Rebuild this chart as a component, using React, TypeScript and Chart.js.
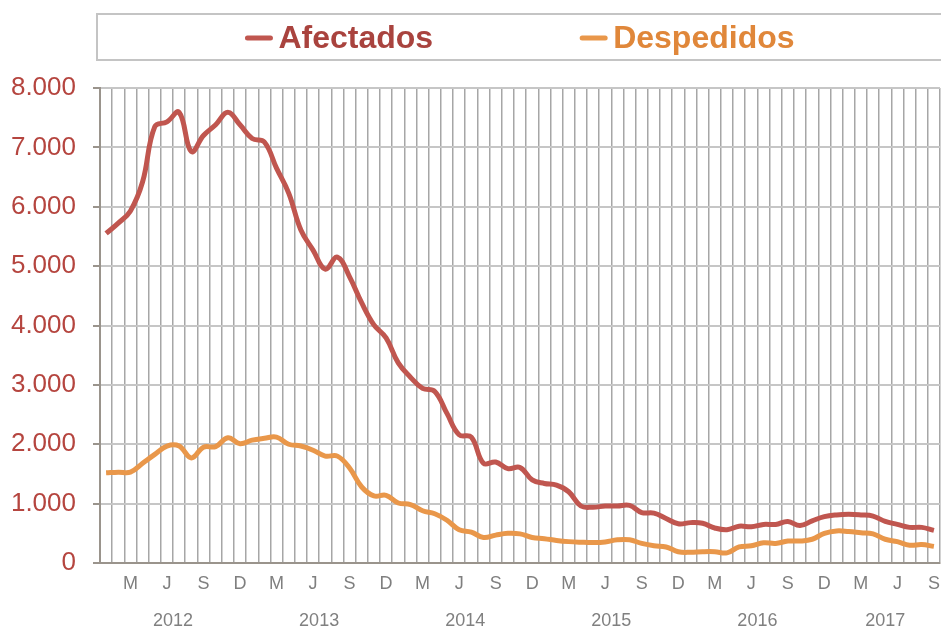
import React, { useEffect, useRef } from "react";
import { Chart, registerables } from "chart.js";

Chart.register(...registerables);

const years = ["2012", "2013", "2014", "2015", "2016", "2017"];
const monthLetters = ["E", "F", "M", "A", "M", "J", "J", "A", "S", "O", "N", "D"];
const shownMonths = [2, 5, 8, 11];
const monthsInLastYear = 9;

const afectados = [
  5550, 5725, 5930, 6420, 7350, 7430, 7590, 6930, 7200, 7380,
  7590, 7380, 7150, 7090, 6650, 6230, 5610, 5270, 4950, 5150,
  4820, 4380, 4010, 3790, 3370, 3130, 2940, 2890, 2520, 2160,
  2120, 1680, 1700, 1590, 1610, 1400, 1340, 1310, 1200, 960,
  940, 960, 960, 970, 850, 840, 750, 660, 680, 670,
  590, 560, 620, 610, 650, 650, 700, 630, 710, 780,
  810, 820, 810, 790, 700, 650, 600, 600, 550,
];

const despedidos = [
  1520, 1530, 1530, 1680, 1830, 1970, 1970, 1770, 1950, 1960,
  2110, 2010, 2070, 2100, 2120, 2000, 1970, 1900, 1800, 1800,
  1600, 1280, 1130, 1140, 1010, 985, 880, 830, 720, 560,
  520, 430, 470, 500, 490, 430, 410, 380, 360, 350,
  345, 355, 390, 390, 330, 290, 270, 190, 180, 190,
  190, 170, 270, 290, 340, 330, 370, 370, 400, 500,
  540, 530, 510, 490, 400, 360, 300, 310, 280,
];

const categories: string[] = [];
const monthIdx: number[] = [];
const yearOf: string[] = [];
years.forEach((y, yi) => {
  const n = yi === years.length - 1 ? monthsInLastYear : 12;
  for (let m = 0; m < n; m++) {
    categories.push(monthLetters[m] + " " + y);
    monthIdx.push(m);
    yearOf.push(y);
  }
});

const seriesNames = ["Afectados", "Despedidos"];
const lineColors = ["#C0564F", "#E9974A"];
const textColors = ["#A9433E", "#E0873A"];

const FONT = "'Liberation Sans', Arial, sans-serif";

const overlayPlugin = {
  id: "overlay",
  afterDraw(chart: any) {
    const ctx = chart.ctx;
    const x = chart.scales.x;
    // year labels
    ctx.save();
    ctx.font = `18px ${FONT}`;
    ctx.fillStyle = "#808080";
    ctx.textAlign = "center";
    ctx.textBaseline = "middle";
    years.forEach((y) => {
      const first = yearOf.indexOf(y);
      const last = yearOf.lastIndexOf(y);
      const cx = (x.getPixelForValue(first) + x.getPixelForValue(last)) / 2;
      ctx.fillText(y, cx, 621);
    });
    ctx.restore();

    // legend box
    ctx.save();
    ctx.strokeStyle = "#C4C4C4";
    ctx.lineWidth = 2;
    ctx.strokeRect(97, 14, 860, 46);
    ctx.font = `bold 32px ${FONT}`;
    const markerW = 27;
    const gap = 6;
    const itemGap = 147;
    const widths = seriesNames.map((s) => ctx.measureText(s).width);
    const total = widths.reduce((a, b) => a + b, 0) + seriesNames.length * (markerW + gap) + itemGap * (seriesNames.length - 1);
    const center = (chart.chartArea.left + chart.chartArea.right) / 2;
    let cx = center - total / 2;
    const cy = 38;
    seriesNames.forEach((s, i) => {
      ctx.strokeStyle = lineColors[i];
      ctx.lineWidth = 5;
      ctx.lineCap = "round";
      ctx.beginPath();
      ctx.moveTo(cx + 2, cy);
      ctx.lineTo(cx + markerW - 2, cy);
      ctx.stroke();
      cx += markerW + gap;
      ctx.fillStyle = textColors[i];
      ctx.textAlign = "left";
      ctx.textBaseline = "middle";
      ctx.fillText(s, cx, cy + 1);
      cx += widths[i] + itemGap;
    });
    ctx.restore();
  },
};

export default function App() {
  const ref = useRef<HTMLCanvasElement>(null);
  useEffect(() => {
    if (!ref.current) return;
    const chart = new Chart(ref.current, {
      type: "line",
      data: {
        labels: categories,
        datasets: [
          {
            label: seriesNames[0],
            data: afectados,
            borderColor: lineColors[0],
            borderWidth: 5,
            pointRadius: 0,
            tension: 0.4,
            fill: false,
          },
          {
            label: seriesNames[1],
            data: despedidos,
            borderColor: lineColors[1],
            borderWidth: 5,
            pointRadius: 0,
            tension: 0.4,
            fill: false,
          },
        ],
      },
      options: {
        responsive: false,
        animation: false,
        devicePixelRatio: 1,
        layout: { padding: { top: 88, left: 0, right: 1, bottom: 0 } },
        plugins: { legend: { display: false }, tooltip: { enabled: false } },
        scales: {
          x: {
            type: "category",
            offset: true,
            grid: {
              offset: true,
              color: "#A6A6A6",
              lineWidth: 1.5,
              drawTicks: false,
            },
            border: { color: "#9A948C", width: 2 },
            ticks: {
              autoSkip: false,
              maxRotation: 0,
              padding: 10,
              color: "#7F7F7F",
              font: { family: FONT, size: 18 },
              callback: (_v: any, i: number) =>
                shownMonths.includes(monthIdx[i]) ? monthLetters[monthIdx[i]] : "",
            },
            afterFit: (s: any) => {
              s.height = 66;
              s.paddingLeft = 0;
              s.paddingRight = 0;
            },
          },
          y: {
            min: 0,
            max: 8000,
            ticks: {
              stepSize: 1000,
              padding: 17,
              color: "#B5453F",
              font: { family: FONT, size: 26 },
              callback: (v: any) => Number(v).toLocaleString("de-DE"),
            },
            grid: { color: "#C6C6C6", lineWidth: 2, tickLength: 7, tickColor: "#9A948C" },
            border: { color: "#9A948C", width: 2 },
            afterFit: (s: any) => {
              s.width = 100;
            },
          },
        },
      },
      plugins: [overlayPlugin],
    });
    return () => chart.destroy();
  }, []);
  return (
    <div style={{ position: "fixed", left: 0, top: 0, width: 941, height: 629, background: "#fff" }}>
      <canvas ref={ref} width={941} height={629} style={{ width: 941, height: 629, display: "block" }} />
    </div>
  );
}
